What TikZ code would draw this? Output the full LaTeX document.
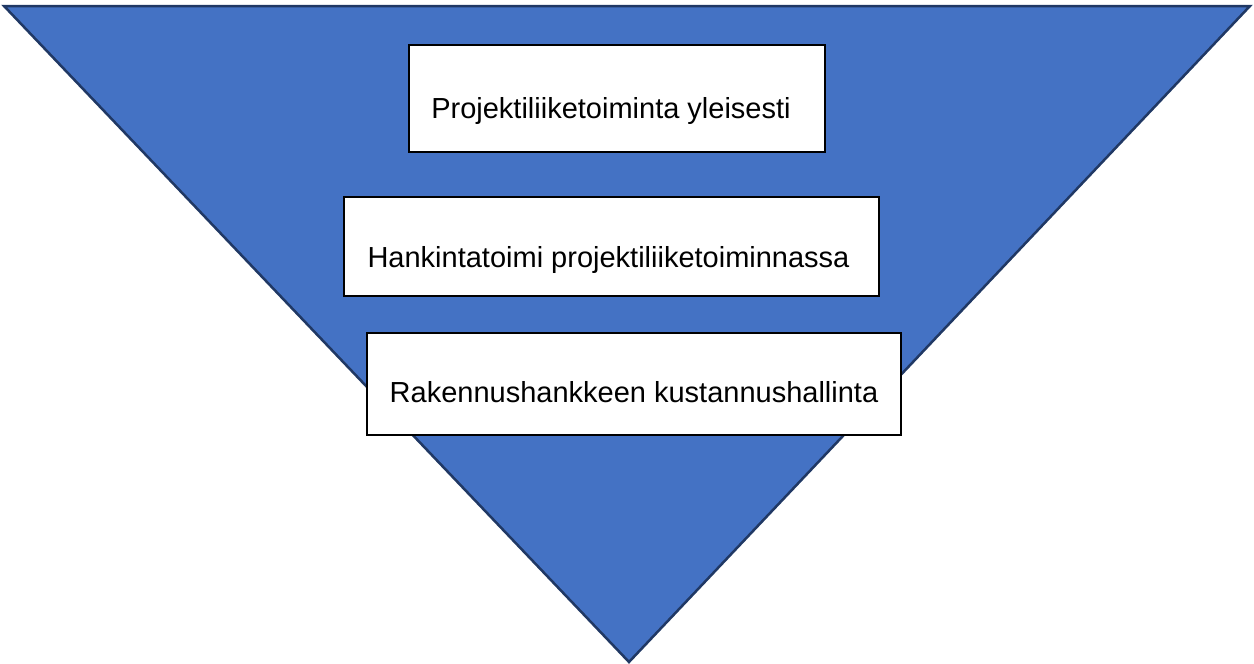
\documentclass[tikz,border=0pt]{standalone}
\usepackage{fontspec}
\setmainfont{Liberation Sans}
\definecolor{triblue}{HTML}{4472C4}
\definecolor{triedge}{HTML}{203864}
\tikzset{
  boxshape/.style={draw=black, line width=1.4pt, fill=white, inner sep=0pt},
  boxtext/.style={anchor=base, inner sep=0pt, font=\fontsize{29}{34}\selectfont}
}
\begin{document}
\begin{tikzpicture}[x=1pt,y=-1pt]
\useasboundingbox (0,0) rectangle (1254,664);
\coordinate (tl) at (4,6);
\coordinate (tr) at (1250,6);
\coordinate (ap) at (629,662);
\draw[fill=triblue, draw=triedge, line width=2.5pt, line join=miter] (tl) -- (tr) -- (ap) -- cycle;
\node[boxshape, minimum width=416pt, minimum height=107pt] (b1) at (617,98.5) {};
\node[boxshape, minimum width=535pt, minimum height=99pt] (b2) at (611.5,246.5) {};
\node[boxshape, minimum width=534pt, minimum height=102pt] (b3) at (634,384) {};
\node[boxtext] (t1) at (611,118) {Projektiliiketoiminta yleisesti};
\node[boxtext] (t2) at (608.5,267) {Hankintatoimi projektiliiketoiminnassa};
\node[boxtext] (t3) at (634,402) {Rakennushankkeen kustannushallinta};
\end{tikzpicture}
\end{document}
